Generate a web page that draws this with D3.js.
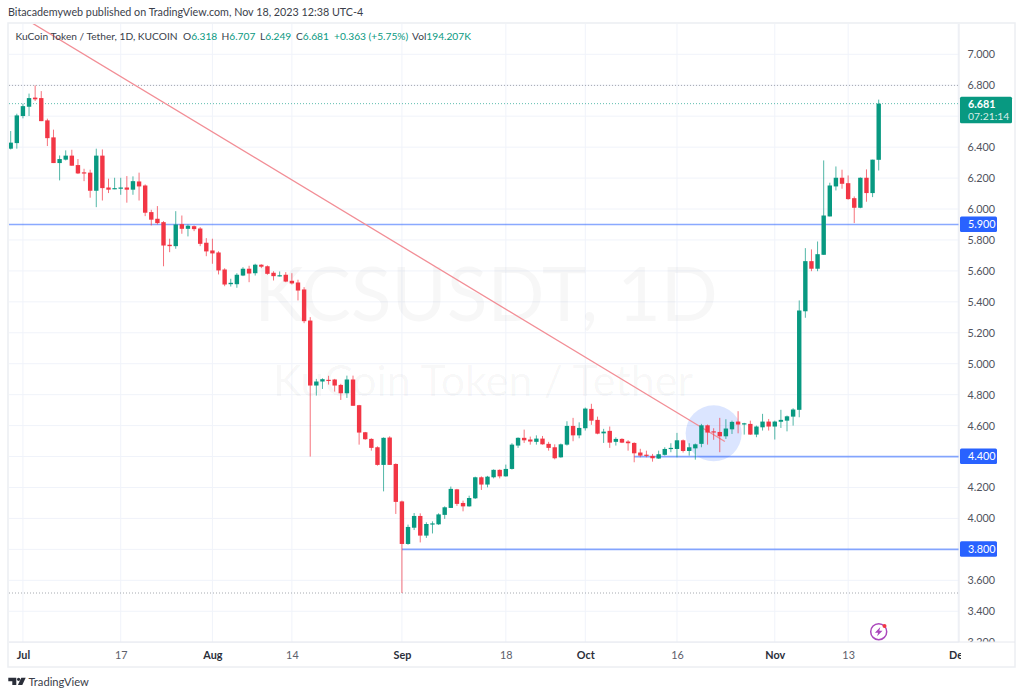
<!DOCTYPE html>
<html><head><meta charset="utf-8">
<script src="https://cdn.jsdelivr.net/npm/d3@7"></script>
<style>html,body{margin:0;padding:0;background:#fff}svg{display:block}text{font-family:Lato,"Open Sans",sans-serif}</style>
</head><body><div id="chart"></div>
<script>
const firstDay = "2023-06-29";
const opens = [6.390,6.426,6.601,6.661,6.720,6.717,6.573,6.463,6.297,6.319,6.345,6.284,6.237,6.235,6.118,6.345,6.139,6.128,6.131,6.139,6.125,6.178,6.152,5.980,5.937,5.915,5.769,5.760,5.902,5.872,5.889,5.874,5.782,5.732,5.719,5.609,5.514,5.514,5.570,5.614,5.585,5.640,5.630,5.588,5.566,5.575,5.536,5.525,5.480,5.279,4.859,4.885,4.896,4.898,4.863,4.809,4.898,4.732,4.557,4.514,4.460,4.346,4.523,4.352,4.110,3.835,3.940,4.016,3.889,3.962,3.962,4.023,4.068,4.188,4.100,4.078,4.130,4.266,4.219,4.266,4.314,4.272,4.320,4.471,4.521,4.510,4.495,4.516,4.482,4.460,4.395,4.477,4.598,4.537,4.583,4.708,4.637,4.550,4.566,4.495,4.514,4.497,4.488,4.426,4.412,4.404,4.387,4.411,4.449,4.449,4.505,4.436,4.453,4.482,4.602,4.563,4.559,4.531,4.576,4.626,4.611,4.611,4.542,4.589,4.626,4.594,4.625,4.632,4.658,4.702,5.339,5.663,5.614,5.704,5.952,6.146,6.202,6.167,6.070,6.008,6.202,6.103,6.318];
const highs = [6.504,6.616,6.681,6.746,6.799,6.762,6.584,6.513,6.346,6.379,6.383,6.323,6.260,6.254,6.390,6.385,6.196,6.202,6.202,6.213,6.211,6.235,6.159,5.995,6.019,5.922,5.808,5.986,5.958,5.900,5.894,5.883,5.812,5.808,5.727,5.617,5.549,5.585,5.624,5.633,5.646,5.643,5.635,5.598,5.596,5.592,5.585,5.543,5.495,5.301,4.902,4.906,4.922,4.902,4.870,4.923,4.923,4.734,4.559,4.518,4.466,4.524,4.531,4.356,4.115,3.960,4.035,4.033,3.975,3.981,4.033,4.078,4.206,4.191,4.115,4.147,4.270,4.272,4.275,4.317,4.317,4.348,4.486,4.524,4.574,4.529,4.537,4.533,4.495,4.479,4.484,4.628,4.650,4.621,4.717,4.741,4.658,4.579,4.594,4.524,4.518,4.506,4.492,4.450,4.438,4.417,4.438,4.460,4.486,4.553,4.510,4.486,4.484,4.611,4.607,4.583,4.650,4.641,4.632,4.693,4.618,4.632,4.600,4.676,4.643,4.632,4.702,4.665,4.712,5.409,5.747,5.739,5.790,6.314,6.170,6.275,6.254,6.217,6.081,6.204,6.256,6.319,6.707];
const lows = [6.385,6.390,6.586,6.601,6.698,6.568,6.407,6.297,6.185,6.314,6.280,6.226,6.180,6.073,6.012,6.055,6.103,6.128,6.092,6.041,6.092,6.055,5.954,5.894,5.900,5.630,5.721,5.743,5.840,5.823,5.857,5.760,5.695,5.646,5.577,5.501,5.499,5.491,5.566,5.527,5.570,5.618,5.575,5.538,5.564,5.527,5.512,5.409,5.262,4.400,4.794,4.837,4.865,4.820,4.766,4.779,4.728,4.477,4.508,4.438,4.341,4.175,4.346,4.029,3.518,3.830,3.925,3.845,3.874,3.903,3.958,3.997,4.068,4.081,4.046,4.076,4.126,4.184,4.201,4.259,4.259,4.270,4.316,4.456,4.488,4.477,4.477,4.477,4.438,4.382,4.392,4.471,4.499,4.518,4.568,4.605,4.544,4.488,4.456,4.471,4.487,4.438,4.363,4.395,4.395,4.367,4.385,4.406,4.428,4.395,4.426,4.406,4.380,4.460,4.477,4.508,4.428,4.514,4.546,4.550,4.542,4.540,4.525,4.568,4.568,4.510,4.585,4.563,4.600,4.654,5.297,5.598,5.598,5.704,5.952,6.120,6.131,6.060,5.909,6.005,6.047,6.077,6.249];
const closes = [6.429,6.605,6.665,6.717,6.709,6.568,6.458,6.297,6.323,6.345,6.280,6.230,6.232,6.118,6.345,6.135,6.125,6.135,6.139,6.125,6.180,6.146,5.976,5.931,5.909,5.764,5.760,5.900,5.872,5.892,5.870,5.775,5.726,5.713,5.603,5.512,5.523,5.575,5.614,5.583,5.640,5.627,5.581,5.566,5.572,5.531,5.519,5.473,5.275,4.859,4.885,4.900,4.891,4.859,4.809,4.898,4.728,4.555,4.512,4.456,4.346,4.521,4.346,4.107,3.835,3.945,4.016,3.889,3.964,3.968,4.026,4.072,4.191,4.094,4.078,4.132,4.266,4.219,4.270,4.314,4.272,4.320,4.477,4.521,4.505,4.497,4.516,4.479,4.456,4.389,4.479,4.598,4.537,4.585,4.710,4.632,4.548,4.561,4.490,4.514,4.490,4.486,4.421,4.406,4.406,4.389,4.415,4.449,4.456,4.505,4.436,4.460,4.479,4.602,4.555,4.557,4.531,4.581,4.624,4.607,4.615,4.542,4.594,4.626,4.594,4.626,4.637,4.660,4.704,5.344,5.663,5.614,5.708,5.958,6.152,6.202,6.163,6.064,6.008,6.202,6.103,6.319,6.681];

const priceTicks = [7.0,6.8,6.6,6.4,6.2,6.0,5.8,5.6,5.4,5.2,5.0,4.8,4.6,4.4,4.2,4.0,3.8,3.6,3.4,3.2];
const hiddenPriceLabels = [6.6,4.4,3.8];
const dateTicks = ["2023-07-01","2023-07-17","2023-08-01","2023-08-14","2023-09-01","2023-09-18","2023-10-01","2023-10-16","2023-11-01","2023-11-13","2023-12-01"];
const dateTickLabels = ["Jul","17","Aug","14","Sep","18","Oct","16","Nov","13","Dec"];
const monthLabels = ["Jul","Aug","Sep","Oct","Nov","Dec"];

const levelPrices = [5.9, 4.4, 3.8];
const levelStarts = ["2023-06-20", "2023-10-09", "2023-09-01"];
const trendDates = ["2023-07-02T12:00Z", "2023-10-23T20:00Z"];
const trendPrices = [7.202, 4.497];
const dottedPrices = [6.799, 3.518];
const lastPrice = 6.681;
const circleDate = "2023-10-22T00:00Z", circlePrice = 4.55;

const W = 1024, H = 697;
const plot = {l: 9, r: 959, t: 24, b: 642};
const green = "#089981", red = "#F23645", blue = "#2962FF", grid = "#f0f3fa", axisText = "#50535e";

const day0 = d3.isoParse(firstDay + "T00:00Z");
const dates = opens.map((_, i) => d3.utcDay.offset(day0, i));
const x = d3.scaleUtc().domain([day0, dates[dates.length - 1]]).range([10.7, 878.7]);
const y = d3.scaleLinear().domain([3.2, 7.0]).range([642.2, 54.3]);
const pd = s => d3.isoParse(s.length === 10 ? s + "T00:00Z" : s);

const svg = d3.select("#chart").append("svg").attr("width", W).attr("height", H).attr("viewBox", [0, 0, W, H]);
const defs = svg.append("defs");
defs.append("clipPath").attr("id", "plotClip").append("rect").attr("x", plot.l).attr("y", plot.t).attr("width", plot.r - plot.l).attr("height", plot.b - plot.t);
defs.append("clipPath").attr("id", "xClip").append("rect").attr("x", plot.l).attr("y", plot.b).attr("width", plot.r - plot.l + 2).attr("height", 24);
defs.append("clipPath").attr("id", "yClip").append("rect").attr("x", plot.r).attr("y", plot.t).attr("width", 56).attr("height", plot.b - plot.t);

// frame
svg.append("rect").attr("x", 8).attr("y", 23).attr("width", 1007).attr("height", 644).attr("fill", "#fff").attr("stroke", "#eceef2").attr("stroke-width", 1.5);

// grid
const gridG = svg.append("g");
gridG.selectAll(".gh").data(priceTicks).join("line").attr("x1", plot.l).attr("x2", plot.r).attr("y1", d => y(d)).attr("y2", d => y(d)).attr("stroke", grid);
gridG.selectAll(".gv").data(dateTicks).join("line").attr("x1", d => x(pd(d))).attr("x2", d => x(pd(d))).attr("y1", plot.t).attr("y2", plot.b).attr("stroke", grid);

const main = svg.append("g").attr("clip-path", "url(#plotClip)");

// watermark
main.append("text").attr("x", 486).attr("y", 321).attr("text-anchor", "middle").attr("font-size", 75).attr("fill", "#2a2e39").attr("fill-opacity", 0.04).text("KCSUSDT, 1D");
main.append("text").attr("x", 483).attr("y", 396).attr("text-anchor", "middle").attr("font-size", 43).attr("fill", "#2a2e39").attr("fill-opacity", 0.04).text("KuCoin Token / Tether");

// highlight
main.append("circle").attr("cx", x(pd(circleDate))).attr("cy", y(circlePrice)).attr("r", 28).attr("fill", "#2962ff").attr("fill-opacity", 0.17);

// dotted levels
main.selectAll(".dot").data(dottedPrices).join("line").attr("x1", plot.l).attr("x2", plot.r).attr("y1", d => y(d)).attr("y2", d => y(d)).attr("stroke", "#8a8d96").attr("stroke-opacity", 0.75).attr("stroke-dasharray", "1 2");
main.append("line").attr("x1", plot.l).attr("x2", plot.r).attr("y1", y(lastPrice)).attr("y2", y(lastPrice)).attr("stroke", green).attr("stroke-opacity", 0.65).attr("stroke-dasharray", "1 2");

// horizontal support lines
main.selectAll(".lvl").data(levelPrices).join("line")
  .attr("x1", (d, i) => x(pd(levelStarts[i]))).attr("x2", plot.r)
  .attr("y1", d => y(d)).attr("y2", d => y(d)).attr("stroke", blue).attr("stroke-opacity", 0.55).attr("stroke-width", 1.7);

// trendline
const trend = d3.line().x((d, i) => x(pd(trendDates[i]))).y(d => y(d));
main.append("path").attr("d", trend(trendPrices)).attr("fill", "none").attr("stroke", "#f28e96").attr("stroke-width", 1.3);

// candles
const idx = d3.range(opens.length);
const col = i => closes[i] >= opens[i] ? green : red;
main.selectAll(".wick").data(idx).join("line")
  .attr("x1", i => x(dates[i])).attr("x2", i => x(dates[i]))
  .attr("y1", i => y(highs[i])).attr("y2", i => y(lows[i]))
  .attr("stroke", col).attr("stroke-opacity", 0.7).attr("stroke-width", 1);
const bw = 4.4;
main.selectAll(".body").data(idx).join("rect")
  .attr("x", i => x(dates[i]) - bw / 2).attr("width", bw)
  .attr("y", i => y(Math.max(opens[i], closes[i])))
  .attr("height", i => Math.max(1.2, Math.abs(y(opens[i]) - y(closes[i]))))
  .attr("fill", col);

// axes
const priceFmt = d3.format(".3f");
const yAxis = d3.axisRight(y).tickValues(priceTicks).tickFormat(d => hiddenPriceLabels.includes(d) ? "" : priceFmt(d)).tickSize(0).tickPadding(8.5);
const yInner = svg.append("g").attr("clip-path", "url(#yClip)").append("g").attr("transform", `translate(${plot.r},0)`).call(yAxis);
yInner.select(".domain").remove();
yInner.selectAll("text").attr("fill", axisText).attr("font-size", 10.8).attr("font-family", "Lato");
svg.append("line").attr("x1", plot.r).attr("x2", plot.r).attr("y1", plot.t).attr("y2", plot.b).attr("stroke", "#e6e8ee");

const xAxis = d3.axisBottom(x).tickValues(dateTicks.map(pd)).tickFormat((d, i) => dateTickLabels[i]).tickSize(0).tickPadding(9);
const xInner = svg.append("g").attr("clip-path", "url(#xClip)").append("g").attr("transform", `translate(0,${plot.b})`).call(xAxis);
xInner.select(".domain").remove();
xInner.selectAll("text").attr("font-size", 10.8)
  .attr("font-family", "Lato")
  .attr("fill", (d, i) => monthLabels.includes(dateTickLabels[i]) ? "#2a2e39" : "#5d606b")
  .attr("font-weight", (d, i) => monthLabels.includes(dateTickLabels[i]) ? 700 : 400);
svg.append("line").attr("x1", plot.l).attr("x2", 1015).attr("y1", plot.b).attr("y2", plot.b).attr("stroke", "#e6e8ee");

// price labels
const lab = svg.append("g");
levelPrices.forEach(p => {
  lab.append("rect").attr("x", 960).attr("y", y(p) - 8).attr("width", 37).attr("height", 15.5).attr("rx", 1.5).attr("fill", blue);
  lab.append("text").attr("x", 968).attr("y", y(p) + 3.8).attr("fill", "#fff").attr("font-size", 10.8).text(priceFmt(p));
});
lab.append("rect").attr("x", 960).attr("y", 96.7).attr("width", 52).attr("height", 26.5).attr("rx", 1.5).attr("fill", green);
lab.append("text").attr("x", 968).attr("y", 108).attr("fill", "#fff").attr("font-size", 10.8).attr("font-weight", 700).text(priceFmt(lastPrice));
lab.append("text").attr("x", 968).attr("y", 120).attr("fill", "#fff").attr("fill-opacity", .85).attr("font-size", 10.4).text("07:21:14");

// header texts
svg.append("text").attr("x", 8).attr("y", 16).attr("font-size", 10.75).attr("fill", "#3a3e4a").text("Bitacademyweb published on TradingView.com, Nov 18, 2023 12:38 UTC-4");
const leg = svg.append("g").attr("font-size", 10.2);
const n = opens.length - 1;
leg.append("text").attr("x", 15.5).attr("y", 39.5).attr("fill", "#3a3e4a").text("KuCoin Token / Tether, 1D, KUCOIN");
[["O", opens[n], 183], ["H", highs[n], 221.5], ["L", lows[n], 260], ["C", closes[n], 296]].forEach(([k, v, px]) => {
  const t = leg.append("text").attr("x", px).attr("y", 39.5).attr("fill", "#3a3e4a").text(k);
  t.append("tspan").attr("fill", green).text(priceFmt(v));
});
leg.append("text").attr("x", 334).attr("y", 39.5).attr("fill", green).text("+0.363 (+5.75%)");
leg.append("text").attr("x", 412).attr("y", 39.5).attr("fill", "#3a3e4a").text("Vol").append("tspan").attr("fill", green).text("194.207K");

// lightning icon
const ic = svg.append("g").attr("transform", `translate(${x(dates[n])},631.7)`);
ic.append("circle").attr("r", 8).attr("fill", "#fff").attr("stroke", "#ab47bc").attr("stroke-width", 1.5);
ic.append("path").attr("d", "M1.6,-4.6 L-3.8,1 L-0.6,1 L-1.6,4.6 L3.8,-1 L0.6,-1 Z").attr("fill", "#ab47bc");
ic.append("circle").attr("cx", 5.8).attr("cy", -5.8).attr("r", 2).attr("fill", red);

// TradingView logo
const logo = svg.append("g").attr("transform", "translate(8.3,677.7)").attr("fill", "#2a2e39");
logo.append("path").attr("d", "M0,0 H8 V7.3 H4 V3.5 H0 Z");
logo.append("circle").attr("cx", 10.3).attr("cy", 1.6).attr("r", 1.6);
logo.append("path").attr("d", "M13,0 H17.4 L14,7.3 H9.6 Z");
svg.append("text").attr("x", 28.5).attr("y", 686).attr("font-size", 11.2).attr("fill", "#3a3e4a").text("TradingView");
</script></body></html>
